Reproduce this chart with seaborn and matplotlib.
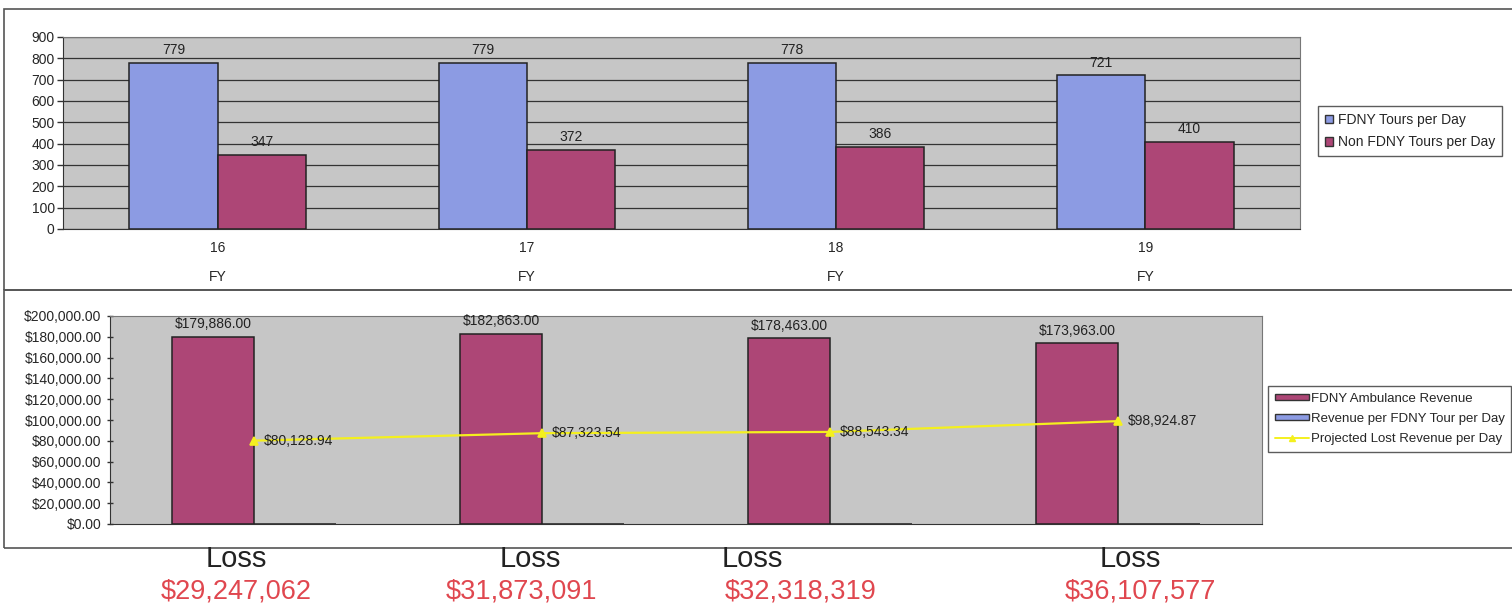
import matplotlib
matplotlib.use("Agg")
import matplotlib.pyplot as plt
import numpy as np
import pandas as pd
import seaborn as sns
from matplotlib.patches import Patch, Rectangle
from matplotlib.lines import Line2D
from matplotlib.ticker import FuncFormatter

fy = ["16", "17", "18", "19"]
fdny_tours = [779, 779, 778, 721]
non_fdny_tours = [347, 372, 386, 410]
ambulance_revenue = [179886.00, 182863.00, 178463.00, 173963.00]
revenue_per_tour = [230.92, 234.74, 229.39, 241.28]
projected_lost = [80128.94, 87323.54, 88543.34, 98924.87]
loss = [29247062, 31873091, 32318319, 36107577]

tour_names = ["FDNY Tours per Day", "Non FDNY Tours per Day"]
rev_names = ["FDNY Ambulance Revenue", "Revenue per FDNY Tour per Day"]
line_name = "Projected Lost Revenue per Day"

BLUE = "#8C9BE3"
RED = "#AD4676"
GRAY = "#C6C6C6"
YELLOW = "#F4F01E"
LOSS_RED = "#E0474F"

sns.set_style("white")
plt.rcParams["font.family"] = ["Liberation Sans", "DejaVu Sans"]

W, H = 1512, 610
fig = plt.figure(figsize=(W / 100, H / 100), dpi=100)


def box(x0, y0, x1, y1):
    # pixel box -> figure fraction [left, bottom, width, height]
    return [x0 / W, 1 - y1 / H, (x1 - x0) / W, (y1 - y0) / H]


# panel frames
for y0, y1 in [(9, 290), (290, 548)]:
    l, b, w, h = box(4, y0, 1516, y1)
    fig.add_artist(Rectangle((l, b), w, h, transform=fig.transFigure,
                             fill=False, edgecolor="#555555", linewidth=1.2))

# ---------- top chart: tours per day ----------
tours = pd.DataFrame({
    "FY": fy * 2,
    "Tours": fdny_tours + non_fdny_tours,
    "Series": [tour_names[0]] * 4 + [tour_names[1]] * 4,
})
ax1 = fig.add_axes(box(63, 37, 1300, 229))
ax1.set_facecolor(GRAY)
sns.barplot(data=tours, x="FY", y="Tours", hue="Series", hue_order=tour_names,
            palette=[BLUE, RED], width=0.57, edgecolor="#222222", linewidth=1.1,
            saturation=1, legend=False, ax=ax1, zorder=3)
for cont in ax1.containers:
    ax1.bar_label(cont, fmt="%d", padding=4, fontsize=10, color="#222222")
ax1.set_ylim(0, 900)
ax1.set_yticks(np.arange(0, 901, 100))
ax1.yaxis.grid(True, color="#333333", linewidth=0.9, zorder=0)
ax1.set_axisbelow(True)
ax1.set_xlim(-0.5, len(fy) - 0.5)
ax1.set_xticks(range(len(fy)))
ax1.set_xticklabels([f"{v}\nFY" for v in fy], linespacing=2.3)
ax1.set_xticks(np.arange(-0.5, len(fy)), minor=True)
ax1.tick_params(axis="x", which="major", length=0, pad=9, labelsize=10)
ax1.tick_params(axis="x", which="minor", length=40, width=1, color="#333333",
                direction="out")
ax1.tick_params(axis="y", length=4, width=1, color="#333333", labelsize=10,
                direction="out", left=True, pad=2)
ax1.set_xlabel("")
ax1.set_ylabel("")
for s in ax1.spines.values():
    s.set_color("#777777")
ax1.spines["left"].set_color("#333333")
ax1.spines["bottom"].set_color("#333333")

fig.legend(handles=[Patch(facecolor=BLUE, edgecolor="#333333"),
                    Patch(facecolor=RED, edgecolor="#333333")],
           labels=tour_names, loc="upper left",
           bbox_to_anchor=(1318 / W, 1 - 106 / H), fontsize=10,
           handlelength=0.6, handleheight=0.6, handletextpad=0.35,
           frameon=True, fancybox=False, edgecolor="#333333",
           borderpad=0.5, labelspacing=0.6, borderaxespad=0)

# ---------- bottom chart: revenue ----------
revenue = pd.DataFrame({
    "FY": fy * 2,
    "Revenue": ambulance_revenue + revenue_per_tour,
    "Series": [rev_names[0]] * 4 + [rev_names[1]] * 4,
})
lost = pd.DataFrame({"FY": fy, "Lost": projected_lost})

ax2 = fig.add_axes(box(110, 316, 1262, 524))
ax2.set_facecolor(GRAY)
sns.barplot(data=revenue, x="FY", y="Revenue", hue="Series", hue_order=rev_names,
            palette=[RED, BLUE], width=0.57, edgecolor="#222222", linewidth=1.1,
            saturation=1, legend=False, ax=ax2, zorder=3)
ax2.bar_label(ax2.containers[0], labels=[f"${v:,.2f}" for v in ambulance_revenue],
              padding=4, fontsize=10, color="#222222")
sns.pointplot(data=lost, x="FY", y="Lost", color=YELLOW, markers="^",
              linestyles="-", markersize=6, linewidth=1.6, ax=ax2, zorder=4)
for i, v in enumerate(projected_lost):
    ax2.annotate(f"${v:,.2f}", (i, v), xytext=(7, 0), textcoords="offset points",
                 va="center", ha="left", fontsize=10, color="#222222", zorder=5)
ax2.set_ylim(0, 200000)
ax2.set_yticks(np.arange(0, 200001, 20000))
ax2.yaxis.set_major_formatter(FuncFormatter(lambda v, p: f"${v:,.2f}"))
ax2.set_xlim(-0.5, len(fy) - 0.5)
ax2.set_xticks([])
ax2.tick_params(axis="y", length=4, width=1, color="#333333", labelsize=10,
                direction="inout", left=True, pad=4)
ax2.set_xlabel("")
ax2.set_ylabel("")
for s in ax2.spines.values():
    s.set_color("#777777")
ax2.spines["left"].set_color("#333333")
ax2.spines["bottom"].set_color("#333333")

fig.legend(handles=[Patch(facecolor=RED, edgecolor="#333333"),
                    Patch(facecolor=BLUE, edgecolor="#333333"),
                    Line2D([], [], color=YELLOW, marker="^", markersize=5,
                           linewidth=1.4)],
           labels=rev_names + [line_name], loc="upper left",
           bbox_to_anchor=(1268 / W, 1 - 386 / H), fontsize=9.5,
           handlelength=2.6, handleheight=0.35, handletextpad=0.15,
           frameon=True, fancybox=False, edgecolor="#333333",
           borderpad=0.5, labelspacing=0.62, borderaxespad=0)

# ---------- loss annotations ----------
loss_word_x = [236, 530, 752, 1130]
loss_amt_x = [236, 521, 801, 1140]
for lx, ax_, v in zip(loss_word_x, loss_amt_x, loss):
    fig.text(lx / W, 1 - 559 / H, "Loss", ha="center", va="center",
             fontsize=21, color="#222222")
    fig.text(ax_ / W, 1 - 592 / H, f"${v:,}", ha="center", va="center",
             fontsize=19.5, color=LOSS_RED)

fig.savefig("out.png", dpi=100, facecolor="white")
